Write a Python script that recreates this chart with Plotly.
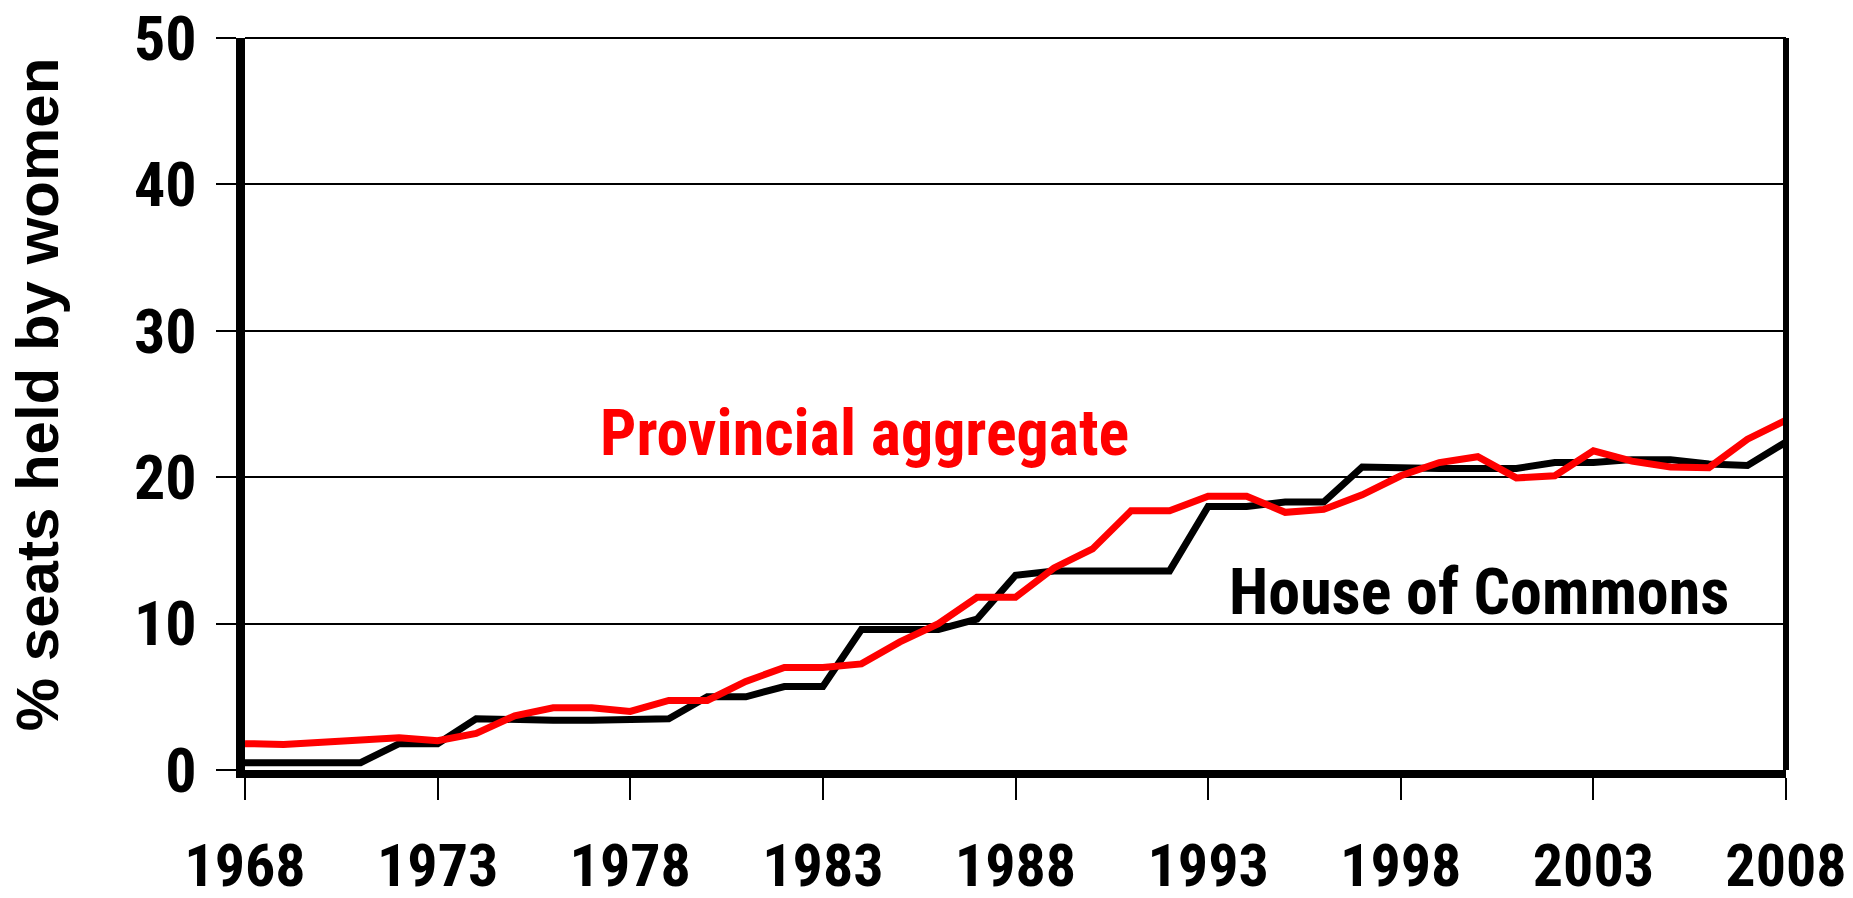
import plotly.graph_objects as go

years = list(range(1968, 2009))
house_of_commons = [0.5, 0.5, 0.5, 0.5, 1.8, 1.8, 3.5, 3.4, 3.4, 3.4, 3.4, 3.5,
                    5.0, 5.0, 5.7, 5.7, 9.6, 9.6, 9.6, 10.3, 13.3, 13.6, 13.6, 13.6,
                    13.6, 18.0, 18.0, 18.3, 18.3, 20.7, 20.6, 20.6, 20.6, 20.6, 21.0,
                    21.0, 21.2, 21.2, 20.9, 20.8, 22.4]
provincial = [1.8, 1.75, 1.9, 2.0, 2.2, 2.0, 2.5, 3.7, 4.25, 4.25, 4.0, 4.75,
              4.75, 6.05, 7.0, 7.0, 7.25, 8.75, 10.0, 11.8, 11.8, 13.8, 15.1, 17.7,
              17.7, 18.7, 18.7, 17.6, 17.8, 18.8, 20.1, 21.0, 21.4, 19.95, 20.1,
              21.8, 21.1, 20.7, 20.65, 22.6, 23.9]
x_ticks = [1968, 1973, 1978, 1983, 1988, 1993, 1998, 2003, 2008]
y_ticks = [0, 10, 20, 30, 40, 50]

narrow = "Roboto Condensed, Liberation Sans Narrow, Arial Narrow, sans-serif"

fig = go.Figure()
fig.add_trace(go.Scatter(x=years, y=house_of_commons, mode="lines",
                         line=dict(color="black", width=7), name="House of Commons"))
fig.add_trace(go.Scatter(x=years, y=provincial, mode="lines",
                         line=dict(color="#ff0000", width=7), name="Provincial aggregate"))

fig.add_annotation(x=1977.15, y=23.0, xref="x", yref="y", text="Provincial aggregate",
                   showarrow=False, xanchor="left", yanchor="middle",
                   font=dict(family=narrow, size=64, color="#ff0000", weight="bold"))
fig.add_annotation(x=1993.5, y=12.1, xref="x", yref="y", text="House of Commons",
                   showarrow=False, xanchor="left", yanchor="middle",
                   font=dict(family=narrow, size=64, color="black", weight="bold"))
fig.add_annotation(x=-0.1345, y=0.513, xref="paper", yref="paper", text="% seats held by women",
                   showarrow=False, textangle=-90, xanchor="center", yanchor="middle",
                   font=dict(family="Liberation Sans, Arial, sans-serif", size=60,
                             color="black", weight="bold"))

# frame edges of the plotting area: thick right edge, thin top edge
fig.add_shape(type="line", xref="paper", yref="paper", x0=1, x1=1, y0=0, y1=1,
              line=dict(color="black", width=6))
fig.add_shape(type="line", xref="paper", yref="paper", x0=0, x1=1, y0=1, y1=1,
              line=dict(color="black", width=2))

# the page body has an 8px default margin, so the figure is sized to fill the rest
fig.update_layout(
    width=1845, height=890,
    margin=dict(l=237, r=67, t=30, b=128),
    paper_bgcolor="white", plot_bgcolor="white",
    showlegend=False,
    xaxis=dict(range=[1968, 2008], tickvals=x_ticks, ticktext=[str(v) for v in x_ticks],
               showgrid=False, zeroline=False, automargin=False,
               showline=True, linecolor="black", linewidth=8,
               ticks="outside", ticklen=22, tickwidth=2, tickcolor="black",
               ticklabelstandoff=14, ticklabeloverflow="allow",
               tickfont=dict(family=narrow, size=60, color="black", weight="bold")),
    yaxis=dict(range=[0, 50], tickvals=y_ticks,
               showgrid=True, gridcolor="black", gridwidth=2, zeroline=False, automargin=False,
               showline=True, linecolor="black", linewidth=9,
               ticks="outside", ticklen=20, tickwidth=2, tickcolor="black",
               ticklabelstandoff=7, ticklabeloverflow="allow",
               tickfont=dict(family=narrow, size=62, color="black", weight="bold")),
)

fig.write_html("out.html")
